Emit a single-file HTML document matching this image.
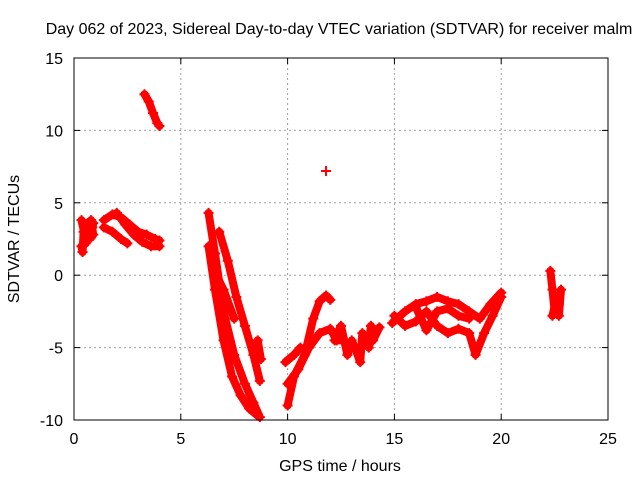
<!DOCTYPE html>
<html><head><meta charset="utf-8"><style>
body{margin:0;background:#fff}
svg text{font-family:"Liberation Sans",sans-serif;font-size:16px;fill:#000}
</style></head><body>
<svg id="c" width="640" height="480">
<rect width="640" height="480" fill="#fff"/>
<g id="grid"></g>
<g id="marks"></g>
<rect x="74" y="58" width="534" height="362" fill="none" stroke="#000"/>
<g id="axes"></g>
<text x="339" y="34" text-anchor="middle">Day 062 of 2023, Sidereal Day-to-day VTEC variation (SDTVAR) for receiver malm</text>
<text x="340" y="471" text-anchor="middle">GPS time / hours</text>
<text transform="translate(19,239) rotate(-90)" text-anchor="middle">SDTVAR / TECUs</text>
</svg>
<script>
const xTicks=[0,5,10,15,20,25];
const yTicks=[-10,-5,0,5,10,15];
const track1=[[0.35,2.0],[0.4,1.6],[0.45,3.0],[0.5,3.5],[0.55,2.2],[0.6,2.5],[0.7,3.0],[0.8,3.8],[0.85,3.3],[0.9,2.8]];
const track1b=[[0.35,3.8],[0.5,2.8],[0.65,3.6],[0.8,2.6],[0.9,3.6]];
const track2a=[[1.4,3.8],[1.8,4.2],[2.2,4.0],[2.6,3.5],[3.0,3.0],[3.4,2.8],[3.8,2.5],[4.0,2.4]];
const track2b=[[1.4,3.3],[1.8,3.0],[2.2,2.5],[2.5,2.2]];
const track2c=[[2.0,4.3],[2.4,3.5],[2.8,2.8],[3.2,2.3],[3.6,2.0],[4.0,2.0]];
const track3=[[3.3,12.5],[3.5,12.0],[3.7,11.2],[3.9,10.5],[4.0,10.3]];
const track4a=[[6.3,4.3],[6.6,1.5],[7.0,-2.5],[7.5,-5.5],[8.0,-7.5],[8.4,-8.8],[8.7,-9.8]];
const track4b=[[6.3,2.0],[6.6,-1.0],[7.0,-4.5],[7.4,-7.0],[7.8,-8.3],[8.2,-9.2],[8.6,-9.7]];
const track4c=[[6.8,3.0],[7.2,1.0],[7.6,-1.5],[8.0,-3.5],[8.4,-5.5],[8.7,-7.3]];
const track4d=[[6.5,0.5],[7.0,-1.0],[7.5,-3.0]];
const track4e=[[8.6,-4.5],[8.75,-5.8]];
const track5a=[[10.0,-9.0],[10.3,-7.0],[10.8,-5.5],[11.2,-3.0],[11.5,-1.8],[11.8,-1.4],[12.0,-1.7]];
const track5b=[[10.0,-7.5],[10.5,-6.5],[11.0,-5.0],[11.5,-4.0],[12.0,-3.7],[12.3,-4.5],[12.6,-4.5]];
const track5c=[[9.9,-6.0],[10.3,-5.5],[10.6,-5.0]];
const track6=[[12.2,-4.5],[12.5,-3.5],[12.8,-5.5],[13.0,-4.5],[13.2,-5.2],[13.4,-6.0],[13.5,-4.0],[13.8,-5.0],[13.9,-3.5],[14.0,-4.5],[14.3,-3.6]];
const track7a=[[14.9,-3.3],[15.5,-2.5],[16.0,-2.0],[16.5,-1.8],[17.0,-1.5],[17.5,-1.8],[18.0,-2.0],[18.5,-2.5],[19.0,-3.0],[19.5,-2.0],[20.0,-1.2]];
const track7b=[[15.0,-2.8],[15.5,-3.5],[16.0,-3.2],[16.5,-2.5],[17.0,-3.5],[17.5,-4.0],[18.0,-3.7],[18.5,-4.0],[18.8,-5.5],[19.2,-4.0],[19.6,-2.8],[20.0,-1.5]];
const track7c=[[16.0,-2.2],[16.5,-3.8],[17.0,-2.5],[17.5,-2.3],[18.0,-2.8],[18.5,-3.0]];
const track8=[[22.3,0.3],[22.4,-1.0],[22.5,-2.5],[22.4,-2.8],[22.6,-1.5],[22.7,-2.0],[22.7,-2.8],[22.8,-1.0]];
const singles=[[11.8,7.2]];
const tracks=[track1,track1b,track2a,track2b,track2c,track3,track4a,track4b,track4c,track4d,track4e,track5a,track5b,track5c,track6,track7a,track7b,track7c,track8];

const X0=74,X1=608,Y0=420,Y1=58;
const xs=v=>X0+(v-0)/(25-0)*(X1-X0);
const ys=v=>Y0-(v+10)/(15+10)*(Y0-Y1);
const NS="http://www.w3.org/2000/svg";
function mk(t,a,p){const e=document.createElementNS(NS,t);for(const k in a)e.setAttribute(k,a[k]);p.appendChild(e);return e;}
const grid=document.getElementById('grid'),axes=document.getElementById('axes'),marks=document.getElementById('marks');
xTicks.forEach(t=>{const x=xs(t);
 if(t>0&&t<25){const g=mk('line',{x1:x,x2:x,y1:Y0,y2:Y1,stroke:'#a0a0a0','stroke-dasharray':'2,3'},grid);}
 mk('line',{x1:x,x2:x,y1:Y0,y2:Y0-6,stroke:'#000'},axes);mk('line',{x1:x,x2:x,y1:Y1,y2:Y1+6,stroke:'#000'},axes);
 const l=mk('text',{x:x,y:Y0+24,'text-anchor':'middle'},axes);l.textContent=t;
 });
yTicks.forEach(t=>{const y=ys(t);
 if(t>-10&&t<15){const g=mk('line',{x1:X0,x2:X1,y1:y,y2:y,stroke:'#a0a0a0','stroke-dasharray':'2,3'},grid);}
 mk('line',{x1:X0,x2:X0+6,y1:y,y2:y,stroke:'#000'},axes);mk('line',{x1:X1,x2:X1-6,y1:y,y2:y,stroke:'#000'},axes);
 const l=mk('text',{x:X0-11,y:y+6,'text-anchor':'end'},axes);l.textContent=t;
 });
function plus(d){const x=xs(d[0]),y=ys(d[1]);
 const p=mk('path',{d:`M${x-5} ${y}H${x+5}M${x} ${y-5}V${y+5}`,stroke:'#f00','stroke-width':2},marks);
 }
tracks.forEach(tr=>{
 const pl=mk('polyline',{points:tr.map(d=>xs(d[0])+','+ys(d[1])).join(' '),fill:'none',stroke:'#f00','stroke-width':8,'stroke-linejoin':'round','stroke-linecap':'round'},marks);
 
 tr.forEach(plus);});
singles.forEach(plus);
</script>
</body></html>
